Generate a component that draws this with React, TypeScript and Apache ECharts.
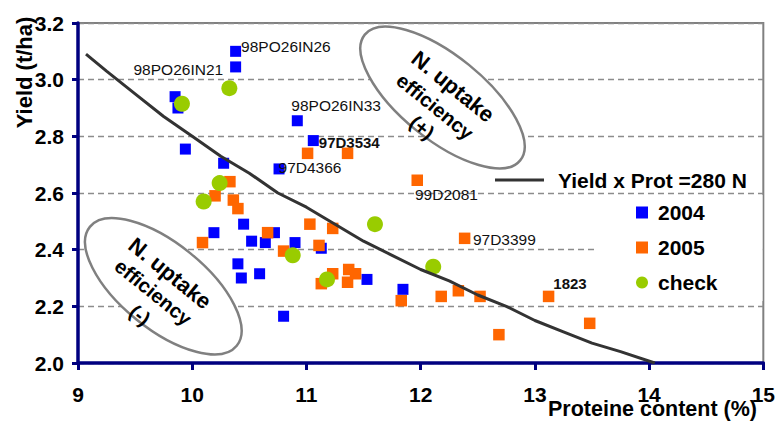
import React, { useEffect, useRef } from 'react';
import * as echarts from 'echarts';

// ---- data ----
const pts2004: number[][] = [
  [10.38, 3.10], [10.38, 3.045], [9.85, 2.94], [9.875, 2.90], [9.94, 2.755],
  [10.275, 2.705], [10.92, 2.855], [11.06, 2.785], [10.76, 2.685], [10.45, 2.49],
  [10.19, 2.46], [10.52, 2.43], [10.64, 2.425], [10.72, 2.46], [10.90, 2.425],
  [11.13, 2.405], [10.40, 2.35], [10.43, 2.30], [10.59, 2.315], [11.53, 2.295],
  [10.80, 2.165], [11.845, 2.26],
];
const pts2005: number[][] = [
  [11.01, 2.74], [11.36, 2.74], [10.33, 2.64], [10.20, 2.59], [10.36, 2.575],
  [10.40, 2.545], [10.09, 2.425], [10.66, 2.46], [11.03, 2.49], [11.23, 2.475],
  [10.80, 2.395], [11.11, 2.415], [11.23, 2.315], [11.13, 2.28], [11.37, 2.33],
  [11.43, 2.315], [11.36, 2.285], [12.385, 2.44], [11.83, 2.22], [12.18, 2.235],
  [12.33, 2.255], [12.52, 2.235], [13.12, 2.235], [12.685, 2.10], [13.48, 2.14],
  [11.97, 2.645],
];
const ptsCheck: number[][] = [
  [10.325, 2.97], [9.91, 2.915], [10.24, 2.635], [10.10, 2.57], [10.88, 2.38],
  [11.18, 2.295], [11.60, 2.49], [12.11, 2.34],
];
const curveProt: number[] = [9.07, 9.25, 9.5, 9.75, 10, 10.25, 10.5, 10.75, 11, 11.25, 11.5, 11.75, 12, 12.25, 12.5, 12.75, 13, 13.25, 13.5, 13.75, 14.05];
const curveYield: number[] = [3.09, 3.03, 2.95, 2.87, 2.80, 2.73, 2.67, 2.60, 2.55, 2.49, 2.43, 2.38, 2.33, 2.29, 2.24, 2.20, 2.15, 2.11, 2.07, 2.04, 2.00];
const pointLabels = [
  { series: '2004', index: 0, text: '98PO26IN26' },
  { series: '2004', index: 1, text: '98PO26IN21' },
  { series: '2004', index: 6, text: '98PO26IN33' },
  { series: '2004', index: 7, text: '97D3534' },
  { series: '2004', index: 8, text: '97D4366' },
  { series: '2005', index: 25, text: '99D2081' },
  { series: '2005', index: 17, text: '97D3399' },
  { series: '2005', index: 22, text: '1823' },
];
const lineName = 'Yield x Prot =280 N';
const scatterNames = ['2004', '2005', 'check'];

// ---- styling ----
const FONT = '"Liberation Sans", Arial, Helvetica, sans-serif';
const NAVY = '#000080';
const labelLook: Record<string, { position: string; offset: number[]; bold?: boolean }> = {
  '98PO26IN26': { position: 'right', offset: [0, -5] },
  '98PO26IN21': { position: 'left', offset: [-7, 3] },
  '98PO26IN33': { position: 'right', offset: [-11.5, -15] },
  '97D3534': { position: 'right', offset: [0, 2], bold: true },
  '97D4366': { position: 'right', offset: [-6, -1] },
  '99D2081': { position: 'right', offset: [-8, 14] },
  '97D3399': { position: 'right', offset: [2.5, 1] },
  '1823': { position: 'right', offset: [-1, -13], bold: true },
};

function buildData(name: string, pts: number[][]) {
  return pts.map((p, i) => {
    const lab = pointLabels.find((l) => l.series === name && l.index === i);
    if (!lab) return { value: p };
    const look = labelLook[lab.text];
    return {
      value: p,
      label: {
        show: true,
        formatter: lab.text,
        position: look.position,
        distance: 0,
        offset: look.offset,
        fontFamily: FONT,
        fontSize: look.bold ? 15 : 15.5,
        fontWeight: look.bold ? 'bold' : 'normal',
        color: '#111',
      },
    };
  });
}

const deg = Math.PI / 180;

function ellipseShape(cx: number, cy: number, rx: number, ry: number) {
  return {
    type: 'ellipse',
    x: cx,
    y: cy,
    rotation: -39 * deg,
    shape: { cx: 0, cy: 0, rx, ry },
    style: { fill: '#ffffff', stroke: '#808080', lineWidth: 2.5 },
    z: 1,
    silent: true,
  };
}

function rotText(text: string, x: number, y: number, size: number) {
  return {
    type: 'text',
    x,
    y,
    rotation: -39 * deg,
    style: {
      text,
      fontFamily: FONT,
      fontSize: size,
      fontWeight: 'bold',
      fill: '#000',
      align: 'center',
      verticalAlign: 'middle',
    },
    z: 2,
    silent: true,
  };
}

export default function App() {
  const ref = useRef<HTMLDivElement>(null);
  useEffect(() => {
    if (!ref.current) return;
    const chart = echarts.init(ref.current, null, { renderer: 'svg' });
    const option: any = {
      animation: false,
      backgroundColor: '#ffffff',
      grid: {
        left: 78,
        right: 12,
        top: 23,
        bottom: 58,
        show: true,
        borderColor: '#808080',
        borderWidth: 2,
        backgroundColor: 'transparent',
      },
      xAxis: {
        type: 'value',
        min: 9,
        max: 15,
        interval: 1,
        axisLine: { show: true, onZero: false, lineStyle: { color: NAVY, width: 3.5 } },
        axisTick: { show: true, length: 7, lineStyle: { color: NAVY, width: 3 } },
        axisLabel: { margin: 21, color: '#000', fontFamily: FONT, fontSize: 21, fontWeight: 'bold' },
        splitLine: { show: false },
      },
      yAxis: {
        type: 'value',
        min: 2.0,
        max: 3.2,
        interval: 0.2,
        axisLine: { show: true, onZero: false, lineStyle: { color: NAVY, width: 3.5 } },
        axisTick: { show: true, length: 6, lineStyle: { color: NAVY, width: 3 } },
        axisLabel: {
          margin: 14,
          color: '#000',
          fontFamily: FONT,
          fontSize: 21,
          fontWeight: 'bold',
          formatter: (v: number) => v.toFixed(1),
        },
        splitLine: { show: true, lineStyle: { color: '#8c8c8c', width: 1.3, type: [6, 4] } },
      },
      legend: [
        {
          data: [{ name: lineName, icon: 'rect' }],
          left: 495,
          top: 169.5,
          padding: 0,
          itemWidth: 49,
          itemHeight: 3,
          selectedMode: false,
          textStyle: { fontFamily: FONT, fontSize: 21, fontWeight: 'bold', color: '#000', lineHeight: 21, padding: [0, 0, 0, 9] },
        },
        {
          data: scatterNames,
          orient: 'vertical',
          left: 595,
          top: 195,
          padding: [7, 45, 8, 41],
          backgroundColor: '#ffffff',
          itemWidth: 12,
          itemHeight: 12,
          itemGap: 14,
          selectedMode: false,
          textStyle: { fontFamily: FONT, fontSize: 21, fontWeight: 'bold', color: '#000', lineHeight: 21, padding: [0, 0, 0, 5] },
        },
      ],
      series: [
        {
          name: '2004',
          type: 'scatter',
          symbol: 'rect',
          symbolSize: 11,
          itemStyle: { color: '#0000ff', opacity: 1 },
          data: buildData('2004', pts2004),
          z: 2,
          silent: true,
        },
        {
          name: '2005',
          type: 'scatter',
          symbol: 'rect',
          symbolSize: 11.5,
          itemStyle: { color: '#ff6600', opacity: 1 },
          data: buildData('2005', pts2005),
          z: 3,
          silent: true,
        },
        {
          name: 'check',
          type: 'scatter',
          symbol: 'circle',
          symbolSize: 16,
          itemStyle: { color: '#99cc00', opacity: 1 },
          data: buildData('check', ptsCheck),
          z: 4,
          silent: true,
        },
        {
          name: lineName,
          type: 'line',
          symbol: 'none',
          showSymbol: false,
          smooth: false,
          lineStyle: { color: '#333333', width: 3 },
          itemStyle: { color: '#333333' },
          data: curveProt.map((x, i) => [x, curveYield[i]]),
          z: 5,
          silent: true,
        },
      ],
      graphic: [
        ellipseShape(442.5, 97.5, 100, 42),
        ellipseShape(163.3, 286.3, 94.5, 42.7),
        rotText('N. uptake', 453, 86.5, 22),
        rotText('efficiency', 435, 106.5, 20),
        rotText('(+)', 422, 127.5, 20),
        rotText('N. uptake', 170, 273.3, 22),
        rotText('efficiency', 153.3, 292.3, 20),
        rotText('(-)', 140, 315, 20),
        {
          type: 'text',
          x: 24,
          y: 72.5,
          rotation: Math.PI / 2,
          style: {
            text: 'Yield (t/ha)',
            fontFamily: FONT,
            fontSize: 22,
            fontWeight: 'bold',
            fill: '#000',
            align: 'center',
            verticalAlign: 'middle',
          },
          z: 2,
        },
        {
          type: 'text',
          x: 652.5,
          y: 409,
          style: {
            text: 'Proteine content (%)',
            fontFamily: FONT,
            fontSize: 21.5,
            fontWeight: 'bold',
            fill: '#000',
            align: 'center',
            verticalAlign: 'middle',
          },
          z: 6,
        },
      ],
    };
    chart.setOption(option);
    return () => chart.dispose();
  }, []);
  return <div ref={ref} style={{ position: 'fixed', left: 0, top: 0, width: 778, height: 421 }} />;
}
